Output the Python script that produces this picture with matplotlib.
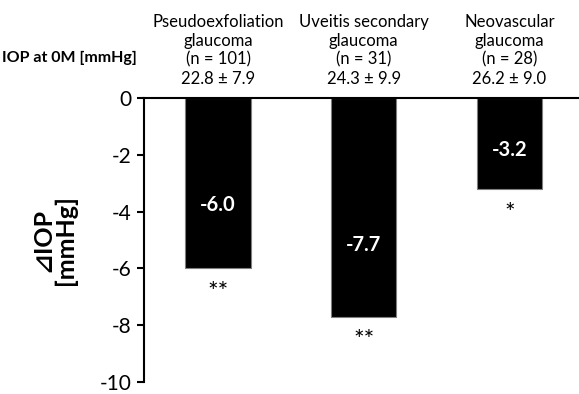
import numpy as np
import matplotlib
matplotlib.use('Agg')
import matplotlib.pyplot as plt

plt.rcParams['font.family'] = ['Lato', 'DejaVu Sans']
plt.rcParams['axes.unicode_minus'] = False

categories = ['Pseudoexfoliation\nglaucoma', 'Uveitis secondary\nglaucoma', 'Neovascular\nglaucoma']
n_patients = [101, 31, 28]
iop_base_mean = [22.8, 24.3, 26.2]
iop_base_sd = [7.9, 9.9, 9.0]
delta_iop = [-6.0, -7.7, -3.2]
signif = ['**', '**', '*']
label_frac = [0.63, 0.67, 0.57]

fig = plt.figure(figsize=(5.79, 3.94), dpi=100)
ax = fig.add_axes([0.2487, 0.0305, 0.7493, 0.7208])

x = np.arange(len(categories))
ax.bar(x, delta_iop, width=0.45, color='black', edgecolor='#7f7f7f', linewidth=0.8)

for xi, v, s, f in zip(x, delta_iop, signif, label_frac):
	ax.text(xi, v * f, '%.1f' % v, ha='center', va='center', color='white',
			fontsize=14.5, fontweight='bold')
	ax.text(xi, v - 0.45, s, ha='center', va='top', fontsize=18)

# header above each bar
for xi, c, n, m, sd in zip(x, categories, n_patients, iop_base_mean, iop_base_sd):
	ax.text(xi, 0.4, '%s\n(n = %d)\n%.1f \u00b1 %.1f' % (c, n, m, sd), ha='center', va='bottom',
			fontsize=12, linespacing=1.22)
ax.text(-0.016, 1.141, 'IOP at 0M [mmHg]', transform=ax.transAxes, ha='right', va='center',
		fontsize=11.5, fontweight='bold')

ax.set_xlim(-0.508, 2.47)
ax.set_ylim(-10, 0)
ax.set_yticks(np.arange(-10, 1, 2))
ax.tick_params(axis='y', labelsize=15, length=5, width=1.5, direction='out', pad=4)
ax.set_xticks([])

ax.spines['right'].set_visible(False)
ax.spines['bottom'].set_visible(False)
ax.spines['left'].set_linewidth(1.5)
ax.spines['top'].set_linewidth(1.5)

ax.set_ylabel('\u22bfIOP\n[mmHg]', fontsize=18, fontweight='bold', labelpad=16, linespacing=1.0)

fig.savefig('out.png', dpi=100)
